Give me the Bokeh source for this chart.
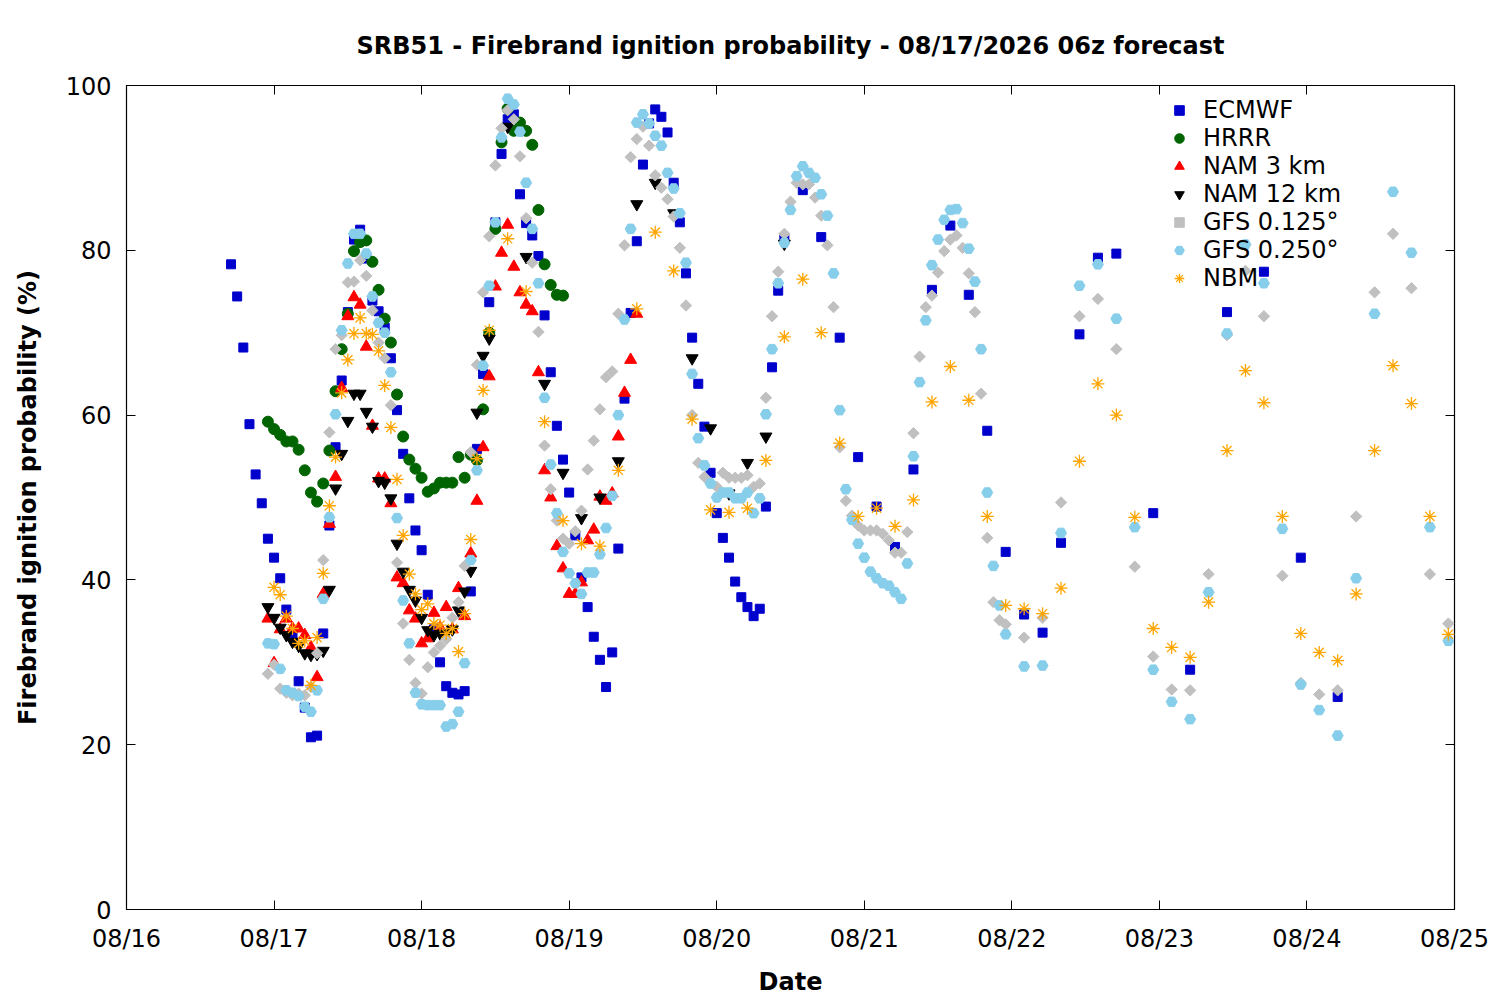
import pandas as pd
from bokeh.plotting import figure
from bokeh.models import (DatetimeAxis, LinearAxis, FixedTicker, DatetimeTickFormatter,
                          CustomJSTickFormatter, Range1d, Legend, LegendItem)
from bokeh.embed import file_html
from bokeh.resources import INLINE

# ---------------- data (hours after 08/16/2026 00z, ignition probability %) ----------------
start_date = "2026-08-16 00:00"
tick_dates = ["2026-08-16", "2026-08-17", "2026-08-18", "2026-08-19", "2026-08-20",
              "2026-08-21", "2026-08-22", "2026-08-23", "2026-08-24", "2026-08-25"]
y_ticks = [0, 20, 40, 60, 80, 100]

series_names = ["ECMWF", "HRRR", "NAM 3 km", "NAM 12 km", "GFS 0.125°", "GFS 0.250°", "NBM"]

ecmwf_hours = list(range(17, 108)) + list(range(110, 162, 3)) + list(range(167, 198, 6))
ecmwf_vals = [78.3, 74.4, 68.2, 58.9, 52.8, 49.3, 45.0, 42.7, 40.2, 36.4,
              33.3, 27.7, 24.5, 20.9, 21.1, 33.5, 46.6, 56.1, 64.2, 72.5,
              81.3, 82.5, 79.0, 73.9, 72.6, 70.6, 66.9, 60.6, 55.3, 49.9,
              46.0, 43.6, 38.2, 34.0, 30.0, 27.1, 26.3, 26.1, 26.5, 38.6,
              55.9, 65.0, 73.7, 83.4, 91.7, 95.9, 96.5, 86.8, 83.3, 81.8,
              79.3, 72.1, 65.2, 58.7, 54.6, 50.6, 45.4, 40.3, 36.7, 33.1,
              30.3, 27.0, 31.2, 43.8, 62.0, 72.4, 81.1, 90.4, 95.4, 97.1,
              96.2, 94.3, 88.2, 83.4, 77.2, 69.4, 63.8, 58.6, 53.0, 48.1,
              45.1, 42.7, 39.8, 37.9, 36.7, 35.6, 36.5, 48.9, 65.8, 75.1,
              81.4,
              87.3, 81.6, 69.4, 54.9, 48.9, 44.0, 53.4, 75.2, 83.0, 74.6,
              58.1, 43.4, 35.8, 33.6, 44.5, 69.8, 79.1, 79.6,
              48.1, 29.1, 72.5, 77.4, 42.7, 25.8]

hrrr_hours = list(range(23, 72))
hrrr_vals = [59.2, 58.3, 57.6, 56.8, 56.8, 55.8, 53.3, 50.6, 49.5, 51.7,
             55.7, 62.9, 68.0, 72.3, 79.9, 81.0, 81.2, 78.6, 75.2, 71.7,
             68.8, 62.5, 57.4, 54.6, 53.5, 52.4, 50.7, 51.1, 51.8, 51.8,
             51.8, 54.9, 52.4, 55.2, 54.5, 60.7, 70.0, 82.6, 93.1, 97.2,
             94.5, 95.5, 94.5, 92.8, 84.9, 78.3, 75.8, 74.6, 74.5]

nam3_hours = list(range(23, 84))
nam3_vals = [35.3, 29.9, 34.0, 35.3, 34.1, 34.1, 33.3, 31.8, 28.2, 38.3,
             46.8, 52.5, 63.3, 72.0, 74.3, 73.4, 68.3, 58.7, 52.3, 52.3,
             49.3, 40.3, 39.6, 36.3, 35.3, 32.3, 32.9, 36.0, 34.2, 36.7,
             34.0, 39.0, 35.6, 43.2, 49.6, 56.1, 64.7, 75.6, 79.7, 83.1,
             78.0, 74.9, 73.4, 72.6, 65.2, 53.3, 50.0, 44.1, 41.4, 38.3,
             38.3, 39.7, 44.8, 46.1, 50.1, 49.6, 50.5, 57.4, 62.7, 66.7,
             72.3]

nam12_hours = list(range(23, 60)) + list(range(62, 108, 3))
nam12_vals = [36.7, 35.4, 34.2, 33.3, 32.5, 32.0, 31.1, 30.9, 31.0, 31.4,
              38.8, 51.1, 55.3, 59.3, 62.6, 62.6, 60.4, 58.6, 52.0, 51.8,
              49.9, 44.4, 41.0, 38.8, 37.5, 35.4, 33.9, 33.3, 33.5, 33.5,
              34.0, 36.3, 38.6, 41.1, 60.3, 67.2, 69.3,
              95.0, 79.2, 63.8, 53.0, 47.5, 50.0, 54.4, 85.6, 88.2, 84.5,
              66.9, 58.4, 50.5, 54.2, 57.4, 80.8]

gfs125_hours = list(range(23, 144)) + list(range(146, 216, 3))
gfs125_vals = [28.6, 29.7, 26.8, 26.3, 26.0, 26.2, 26.0, 27.0, 31.1, 42.4,
               57.9, 68.0, 69.7, 76.1, 76.2, 78.8, 76.9, 72.7, 68.8, 66.9,
               61.2, 42.1, 34.7, 30.3, 27.5, 26.2, 29.4, 31.2, 32.0, 32.8,
               35.4, 37.3, 41.7, 55.5, 66.1, 74.9, 81.7, 90.3, 94.8, 97.0,
               95.9, 91.4, 83.9, 78.5, 70.1, 56.3, 51.0, 47.2, 45.0, 44.4,
               45.9, 48.4, 53.4, 56.9, 60.7, 64.6, 65.3, 72.3, 80.6, 91.3,
               93.5, 95.0, 92.7, 89.1, 87.6, 86.2, 84.1, 80.3, 73.3, 60.0,
               54.2, 52.5, 51.8, 51.3, 53.0, 52.4, 52.4, 52.4, 52.7, 51.3,
               51.7, 62.1, 72.0, 77.4, 82.0, 85.9, 88.2, 88.0, 88.0, 86.4,
               84.2, 80.6, 73.1, 56.1, 49.6, 47.8, 46.6, 46.0, 46.0, 46.0,
               45.6, 44.8, 43.3, 43.3, 45.8, 57.8, 67.1, 73.1, 74.5, 77.3,
               79.9, 81.3, 81.8, 80.3, 77.2, 72.5, 62.6, 45.1, 37.3, 35.1,
               34.6,
               33.0, 35.4, 49.4, 72.0, 74.1, 68.0, 41.6, 30.7, 26.7, 26.6,
               40.7, 69.7, 77.5, 72.0, 40.5, 27.5, 26.1, 26.6, 47.7, 74.9,
               82.0, 75.4, 40.7, 34.7]

gfs250_hours = list(range(23, 144)) + list(range(146, 216, 3))
gfs250_vals = [32.3, 32.2, 29.2, 26.6, 26.3, 25.9, 24.6, 24.0, 26.6, 37.7,
               47.6, 60.1, 70.3, 78.4, 82.0, 82.0, 79.6, 74.4, 71.2, 70.0,
               65.2, 47.5, 37.5, 32.3, 26.3, 24.9, 24.8, 24.8, 24.8, 22.2,
               22.5, 24.0, 29.9, 42.4, 53.3, 66.0, 75.7, 83.4, 93.7, 98.4,
               97.7, 94.4, 88.2, 82.6, 76.0, 62.1, 54.0, 48.1, 43.4, 40.8,
               39.6, 38.3, 40.9, 40.9, 43.1, 46.3, 50.2, 60.0, 71.6, 82.6,
               95.5, 96.5, 95.4, 93.9, 92.7, 89.4, 87.5, 84.5, 78.5, 65.0,
               57.2, 53.9, 51.7, 50.0, 50.6, 50.6, 49.9, 49.9, 50.6, 48.1,
               49.9, 60.1, 68.0, 76.0, 80.9, 84.9, 89.0, 90.2, 89.4, 88.8,
               86.8, 84.2, 77.2, 60.6, 51.0, 47.3, 44.4, 42.7, 41.0, 40.2,
               39.6, 39.3, 38.5, 37.7, 42.0, 55.0, 64.0, 71.5, 78.2, 81.3,
               83.7, 84.9, 85.0, 83.3, 80.2, 76.2, 68.0, 50.6, 41.7, 36.9,
               33.4,
               29.5, 29.6, 45.7, 75.7, 78.3, 71.7, 46.4, 29.1, 25.2, 23.1,
               38.5, 69.9, 80.7, 76.0, 46.2, 27.3, 24.2, 21.1, 40.2, 72.3,
               87.1, 79.7, 46.4, 32.6]

nbm_hours = list(range(24, 60)) + list(range(62, 216, 3))
nbm_vals = [39.1, 38.2, 35.6, 34.1, 32.3, 32.6, 27.2, 33.0, 40.8, 49.0,
            54.9, 62.7, 66.7, 69.9, 71.8, 69.9, 69.8, 67.8, 63.6, 58.5,
            52.2, 45.4, 40.7, 38.3, 36.4, 37.1, 34.7, 34.5, 33.5, 34.1,
            31.3, 35.9, 44.9, 54.7, 63.0, 70.3,
            81.4, 75.0, 59.2, 47.2, 44.4, 44.1, 53.3, 72.9, 82.2, 77.5,
            59.5, 48.5, 48.2, 48.7, 54.5, 69.5, 76.5, 70.0, 56.6, 47.7,
            48.7, 46.5, 49.7, 61.6, 65.9, 61.8, 47.7, 36.9, 36.5, 35.9,
            39.0, 54.4, 63.8, 60.0, 47.6, 34.1, 31.8, 30.6, 37.3, 55.7,
            65.4, 61.5, 47.7, 33.5, 31.2, 30.2, 38.3, 55.7, 66.0, 61.4,
            47.7, 33.4]

# ---------------- figure ----------------
BASE = pd.Timestamp(start_date)


def to_dt(hours):
    return [BASE + pd.Timedelta(hours=h) for h in hours]


FONT = "DejaVu Sans"
FS = "24px"
x0 = pd.Timestamp(tick_dates[0])
x1 = pd.Timestamp(tick_dates[-1])

p = figure(x_axis_type="datetime", frame_width=1328, frame_height=824,
           min_border_left=126, min_border_right=38, min_border_top=85, min_border_bottom=83,
           x_range=Range1d(x0, x1), y_range=Range1d(0, 100),
           output_backend="svg", toolbar_location=None,
           title="SRB51 - Firebrand ignition probability - 08/17/2026 06z forecast")
p.title.align = "center"
p.title.text_font = FONT
p.title.text_font_size = FS
p.title.text_font_style = "bold"
p.title.text_color = "black"
p.title.standoff = 52
p.grid.visible = False
p.outline_line_color = "black"
p.outline_line_width = 1.2
p.background_fill_color = "white"
p.border_fill_color = "white"

xt = FixedTicker(ticks=[pd.Timestamp(d).value / 1e6 for d in tick_dates])
yt = FixedTicker(ticks=y_ticks)
fmt = DatetimeTickFormatter(milliseconds="%m/%d", seconds="%m/%d", minsec="%m/%d",
                            minutes="%m/%d", hourmin="%m/%d", hours="%m/%d",
                            days="%m/%d", months="%m/%d", years="%m/%d")
blank = CustomJSTickFormatter(code="return ''")


def style_axis(ax, labels=True):
    ax.axis_line_color = None
    ax.major_tick_in = 9
    ax.major_tick_out = 0
    ax.major_tick_line_color = "black"
    ax.minor_tick_line_color = None
    ax.major_label_text_font = FONT
    ax.major_label_text_color = "black"
    ax.major_label_text_font_size = FS
    ax.axis_label_text_font = FONT
    ax.axis_label_text_font_style = "bold"
    ax.axis_label_text_font_size = FS
    ax.axis_label_text_color = "black"
    if not labels:
        ax.formatter = blank
        ax.major_label_standoff = 0


xa = p.xaxis[0]
xa.ticker = xt
xa.formatter = fmt
xa.axis_label = "Date"
style_axis(xa)
xa.major_label_standoff = 15
xa.axis_label_standoff = 12

ya = p.yaxis[0]
ya.ticker = yt
ya.axis_label = "Firebrand ignition probability (%)"
style_axis(ya)
ya.major_label_standoff = 15
ya.axis_label_standoff = 21

top_ax = DatetimeAxis(ticker=xt)
style_axis(top_ax, labels=False)
p.add_layout(top_ax, "above")
right_ax = LinearAxis(ticker=yt)
style_axis(right_ax, labels=False)
p.add_layout(right_ax, "right")

# ---------------- series ----------------
r_ecmwf = p.scatter(to_dt(ecmwf_hours), ecmwf_vals, marker="square", size=9,
                    fill_color="#0000cc", line_color="#0000cc")
r_hrrr = p.scatter(to_dt(hrrr_hours), hrrr_vals, marker="circle", size=11,
                   fill_color="#006400", line_color="#006400")
r_nam3 = p.scatter(to_dt(nam3_hours), nam3_vals, marker="triangle", size=12,
                   fill_color="#ff0000", line_color="#ff0000")
r_nam12 = p.scatter(to_dt(nam12_hours), nam12_vals, marker="inverted_triangle", size=12,
                    fill_color="black", line_color="black")
r_gfs125 = p.scatter(to_dt(gfs125_hours), gfs125_vals, marker="square", angle=0.785398,
                     size=8, fill_color="#c0c0c0", line_color="#c0c0c0")
r_gfs250 = p.scatter(to_dt(gfs250_hours), gfs250_vals, marker="hex", size=11,
                     fill_color="#87ceeb", line_color="#87ceeb")
r_nbm = p.scatter(to_dt(nbm_hours), nbm_vals, marker="asterisk", size=13,
                  line_color="#ffa500", line_width=1.3)

renderers = [r_ecmwf, r_hrrr, r_nam3, r_nam12, r_gfs125, r_gfs250, r_nbm]
legend = Legend(items=[LegendItem(label=n, renderers=[r]) for n, r in zip(series_names, renderers)],
                location=(1041, 617), label_text_font=FONT, label_text_font_size=FS,
                label_text_color="black", background_fill_alpha=0, border_line_color=None,
                glyph_width=24, glyph_height=28, label_height=28, spacing=0, padding=0,
                label_standoff=12)
p.add_layout(legend)

open("out.html", "w").write(file_html(p, INLINE))
